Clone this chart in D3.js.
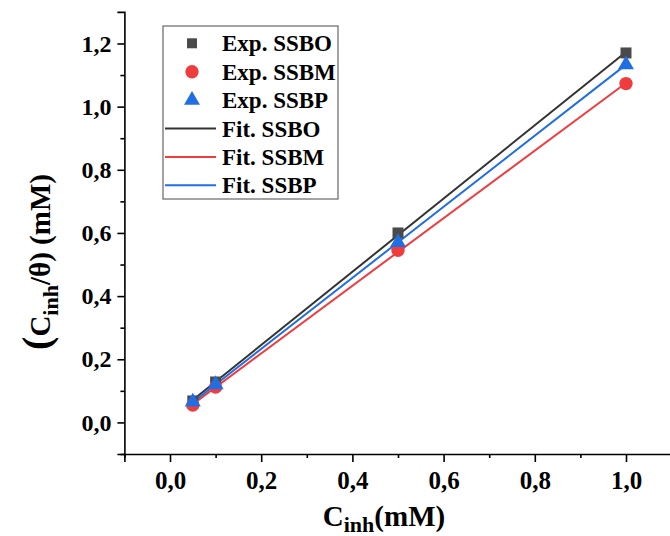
<!DOCTYPE html>
<html>
<head>
<meta charset="utf-8">
<script src="https://cdn.jsdelivr.net/npm/d3@7"></script>
<style>
  html, body { margin: 0; padding: 0; background: #fff; }
  svg { display: block; font-family: "Liberation Serif", "Times New Roman", serif; font-weight: bold; }
</style>
</head>
<body>
<svg id="chart" width="670" height="536"></svg>
<script>
// Inhibitor concentration (mM)
const concentrations = [0.05, 0.1, 0.5, 1.0];

// Measured Cinh/θ (mM) for each inhibitor
const expSSBO = [0.068, 0.128, 0.600, 1.170];
const expSSBM = [0.055, 0.112, 0.545, 1.073];
const expSSBP = [0.065, 0.120, 0.570, 1.133];

// Linear fit lines, evaluated at the ends of the concentration range
const fitX = [0.05, 1.0];
const fitSSBO = [0.071, 1.173];
const fitSSBM = [0.058, 1.075];
const fitSSBP = [0.064, 1.133];

const xTickValues = [0.0, 0.2, 0.4, 0.6, 0.8, 1.0];
const yTickValues = [0.0, 0.2, 0.4, 0.6, 0.8, 1.0, 1.2];
const xMinorTicks = [-0.1, 0.1, 0.3, 0.5, 0.7, 0.9, 1.1];
const yMinorTicks = [-0.1, 0.1, 0.3, 0.5, 0.7, 0.9, 1.1];

const legendLabels = ["Exp. SSBO", "Exp. SSBM", "Exp. SSBP", "Fit. SSBO", "Fit. SSBM", "Fit. SSBP"];

const colors = { SSBO: "#4a4a4a", SSBM: "#f03c3f", SSBP: "#1f6fe3" };
const lineColors = { SSBO: "#333333", SSBM: "#f03c3f", SSBP: "#1f6fe3" };

const svg = d3.select("#chart");

const x = d3.scaleLinear().domain([-0.1, 1.1]).range([124.4, 671.6]);
const y = d3.scaleLinear().domain([-0.1, 1.3]).range([454, 11.9]);

const fmt = d => d3.format(".1f")(d).replace(".", ",");

// Axes
const xg = svg.append("g").attr("transform", `translate(0,${y(-0.1)})`)
  .call(d3.axisBottom(x).tickValues(xTickValues).tickFormat(fmt).tickSizeOuter(0).tickSize(8).tickPadding(9));
xg.selectAll(".tick text").style("font-size", "25px");
svg.append("g").attr("transform", `translate(0,${y(-0.1)})`)
  .call(d3.axisBottom(x).tickValues(xMinorTicks).tickFormat("").tickSizeOuter(0).tickSize(4))
  .select(".domain").remove();

const yg = svg.append("g").attr("transform", `translate(${x(-0.1)},0)`)
  .call(d3.axisLeft(y).tickValues(yTickValues).tickFormat(fmt).tickSizeOuter(0).tickSize(7).tickPadding(6));
yg.selectAll(".tick text").style("font-size", "24px");
svg.append("g").attr("transform", `translate(${x(-0.1)},0)`)
  .call(d3.axisLeft(y).tickValues(yMinorTicks).tickFormat("").tickSizeOuter(0).tickSize(4))
  .select(".domain").remove();

svg.selectAll(".domain").attr("stroke", "#000").attr("stroke-width", 1.6);
svg.selectAll(".tick line").attr("stroke", "#000").attr("stroke-width", 1.6);
svg.selectAll(".tick text")
  .attr("fill", "#000")
  .style("font-family", "'Liberation Serif', 'Times New Roman', serif")
  .style("font-weight", "bold");

// Fit lines
const line = d3.line().x(d => x(d[0])).y(d => y(d[1]));
const fits = [["SSBO", fitSSBO], ["SSBM", fitSSBM], ["SSBP", fitSSBP]];
fits.forEach(([name, vals]) => {
  svg.append("path")
    .datum(fitX.map((xv, i) => [xv, vals[i]]))
    .attr("d", line)
    .attr("fill", "none")
    .attr("stroke", lineColors[name])
    .attr("stroke-width", 2);
});

// Experimental markers
const sym = {
  SSBO: d3.symbol().type(d3.symbolSquare).size(121),
  SSBM: d3.symbol().type(d3.symbolCircle).size(140),
  SSBP: d3.symbol().type(d3.symbolTriangle).size(110)
};
const exps = [["SSBO", expSSBO], ["SSBM", expSSBM], ["SSBP", expSSBP]];
exps.forEach(([name, vals]) => {
  svg.append("g").selectAll("path")
    .data(concentrations.map((c, i) => [c, vals[i]]))
    .join("path")
    .attr("d", sym[name])
    .attr("transform", d => `translate(${x(d[0])},${y(d[1])})`)
    .attr("fill", colors[name]);
});

// Legend
const lg = svg.append("g");
lg.append("rect").attr("x", 163).attr("y", 26).attr("width", 175).attr("height", 173)
  .attr("fill", "none").attr("stroke", "#666").attr("stroke-width", 1.2);

const rowY = i => 43.3 + i * 28.4;
const names = ["SSBO", "SSBM", "SSBP"];
names.forEach((n, i) => {
  lg.append("path").attr("d", d3.symbol().type(n === "SSBO" ? d3.symbolSquare : n === "SSBM" ? d3.symbolCircle : d3.symbolTriangle)
      .size(n === "SSBO" ? 100 : n === "SSBM" ? 140 : 110)())
    .attr("transform", `translate(192,${rowY(i)})`)
    .attr("fill", colors[n]);
  lg.append("line").attr("x1", 165).attr("x2", 216).attr("y1", rowY(i + 3)).attr("y2", rowY(i + 3))
    .attr("stroke", lineColors[n]).attr("stroke-width", 2);
});
legendLabels.forEach((t, i) => {
  lg.append("text").attr("x", 222).attr("y", rowY(i)).attr("dy", "0.35em")
    .style("font-size", "23px").attr("fill", "#000").text(t);
});

// Axis titles
const xt = svg.append("text").attr("x", 384).attr("y", 526).attr("text-anchor", "middle")
  .style("font-size", "29px").attr("fill", "#000");
xt.append("tspan").text("C");
xt.append("tspan").attr("dy", 6).style("font-size", "22px").text("inh");
xt.append("tspan").attr("dy", -6).text("(mM)");

const yt = svg.append("text").attr("transform", "translate(50,262) rotate(-90)").attr("text-anchor", "middle")
  .style("font-size", "29px").attr("fill", "#000");
yt.append("tspan").style("font-size", "40px").text("(");
yt.append("tspan").text("C");
yt.append("tspan").attr("dy", 8).style("font-size", "22px").text("inh");
yt.append("tspan").attr("dy", -8).text("/θ) (mM)");
</script>
</body>
</html>
